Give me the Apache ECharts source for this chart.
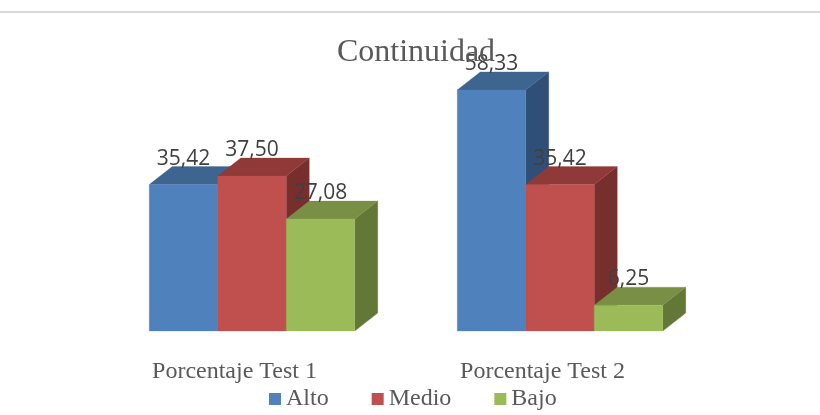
<!DOCTYPE html>
<html><head><meta charset="utf-8">
<style>html,body{margin:0;padding:0;background:#fff}#c{width:820px;height:415px}</style>
<script src="https://cdn.jsdelivr.net/npm/echarts@6/dist/echarts.min.js"></script>
</head><body><div id="c"></div>
<script>
const categories = ['Porcentaje Test 1', 'Porcentaje Test 2'];
const alto = [35.42, 58.33];
const medio = [37.50, 35.42];
const bajo = [27.08, 6.25];

const serif = '"Liberation Serif", serif';
const DX = 23, DY = -18;
function bar3d(slot, front, top, side) {
  return function (params, api) {
    const cat = api.value(0), val = api.value(1);
    const band = api.size([1, 0])[0];
    const w = band * 0.2224;
    const base = api.coord([cat, 0]);
    const head = api.coord([cat, val]);
    const x0 = base[0] + (slot - 1.5) * w, x1 = x0 + w;
    const y0 = base[1], y1 = head[1];
    const poly = (points, fill) => ({ type: 'polygon', shape: { points }, style: { fill, stroke: fill, lineWidth: 0.3 } });
    return { type: 'group', children: [
      poly([[x1, y0], [x1 + DX, y0 + DY], [x1 + DX, y1 + DY], [x1, y1]], side),
      poly([[x0, y1], [x0 + DX, y1 + DY], [x1 + DX, y1 + DY], [x1, y1]], top),
      poly([[x0, y0], [x1, y0], [x1, y1], [x0, y1]], front),
      { type: 'text', z2: 100, style: {
          x: (x0 + x1) / 2, y: y1 - 26,
          text: val.toFixed(2).replace('.', ','),
          fill: '#404040', font: '21px "Open Sans", sans-serif',
          align: 'center', verticalAlign: 'middle' } }
    ] };
  };
}
function mk(name, values, slot, front, top, side) {
  return { name, type: 'custom', coordinateSystem: 'cartesian2d',
    itemStyle: { color: front },
    encode: { x: 0, y: 1 },
    data: values.map((v, i) => [i, v]),
    renderItem: bar3d(slot, front, top, side) };
}
const chart = echarts.init(document.getElementById('c'), null, { renderer: 'canvas' });
chart.setOption({
  animation: false,
  backgroundColor: '#fff',
  title: { text: 'Continuidad', left: 411, textAlign: 'center', top: 32,
    textStyle: { fontFamily: serif, fontWeight: 'normal', fontSize: 32, color: '#595959' } },
  legend: { left: 269, top: 387, padding: 0, itemGap: 43, itemWidth: 12, itemHeight: 12, icon: 'rect',
    textStyle: { fontFamily: serif, fontSize: 24, color: '#595959' },
    data: ['Alto', 'Medio', 'Bajo'] },
  grid: { left: 98, width: 616, top: 83, height: 248 },
  xAxis: { type: 'category', data: categories,
    axisLine: { show: false }, axisTick: { show: false },
    axisLabel: { fontFamily: serif, fontSize: 24, color: '#595959', margin: 29, interval: 0, padding: [0, 35, 0, 0] } },
  yAxis: { type: 'value', min: 0, max: 60, show: false, splitLine: { show: false } },
  graphic: [{ type: 'line', shape: { x1: 0, y1: 12, x2: 820, y2: 12 }, style: { stroke: '#d9d9d9', lineWidth: 2 } }],
  series: [
    mk('Alto', alto, 0, '#4F81BD', '#3E6490', '#2F4F77'),
    mk('Medio', medio, 1, '#C0504D', '#8F3A38', '#772F2D'),
    mk('Bajo', bajo, 2, '#9BBB59', '#788F45', '#637736')
  ]
});
</script></body></html>
